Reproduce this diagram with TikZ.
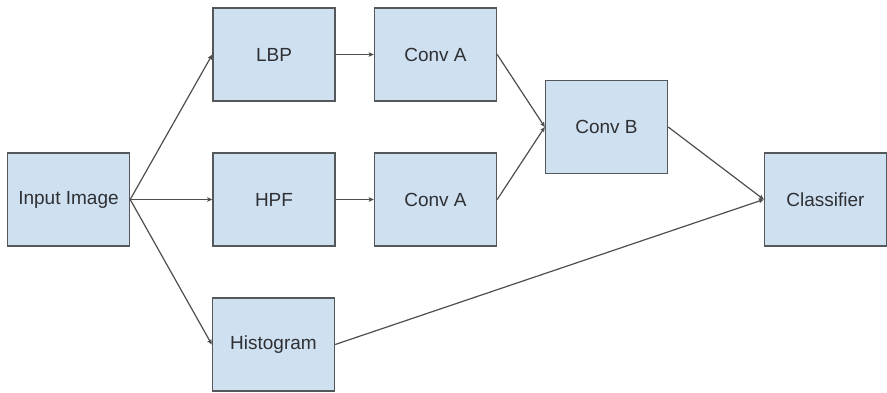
\documentclass[tikz,border=0pt]{standalone}
\usepackage{fontspec}
\setmainfont{Liberation Sans}
\usetikzlibrary{arrows.meta}
\definecolor{boxfill}{HTML}{CFE0F1}
\definecolor{boxline}{HTML}{55585B}
\definecolor{txt}{HTML}{2E3033}
\definecolor{wire}{HTML}{4E4E4E}
\tikzset{
  block/.style={draw=boxline, line width=1.4pt, fill=boxfill, text=txt,
    minimum width=122pt, minimum height=93pt, inner sep=0pt,
    font=\fontsize{19pt}{21pt}\selectfont},
  link/.style={draw=wire, line width=1.2pt,
    -{Stealth[length=5pt,width=4.5pt,inset=1pt]}}
}
\begin{document}
\begin{tikzpicture}[x=1pt,y=-1pt]
\useasboundingbox (0,0) rectangle (887,393);
% processing blocks
\node[block] (in)   at (68.5,199.5) {Input Image};
\node[block] (lbp)  at (274,54.5)   {LBP};
\node[block] (hpf)  at (274,199.5)  {HPF};
\node[block] (hist) at (273.5,344.5) {Histogram};
\node[block] (ca1)  at (435.5,54.5) {Conv A};
\node[block] (ca2)  at (435.5,199.5) {Conv A};
\node[block] (cb)   at (606.5,127)  {Conv B};
\node[block] (cls)  at (825.5,199.5) {Classifier};
% data flow
\draw[link] (in.east) -- (lbp.west);
\draw[link] (in.east) -- (hpf.west);
\draw[link] (in.east) -- (hist.west);
\draw[link] (lbp.east) -- (ca1.west);
\draw[link] (hpf.east) -- (ca2.west);
\draw[link] (ca1.east) -- (cb.west);
\draw[link] (ca2.east) -- (cb.west);
\draw[link] (cb.east) -- (cls.west);
\draw[link] (hist.east) -- (cls.west);
\end{tikzpicture}
\end{document}
